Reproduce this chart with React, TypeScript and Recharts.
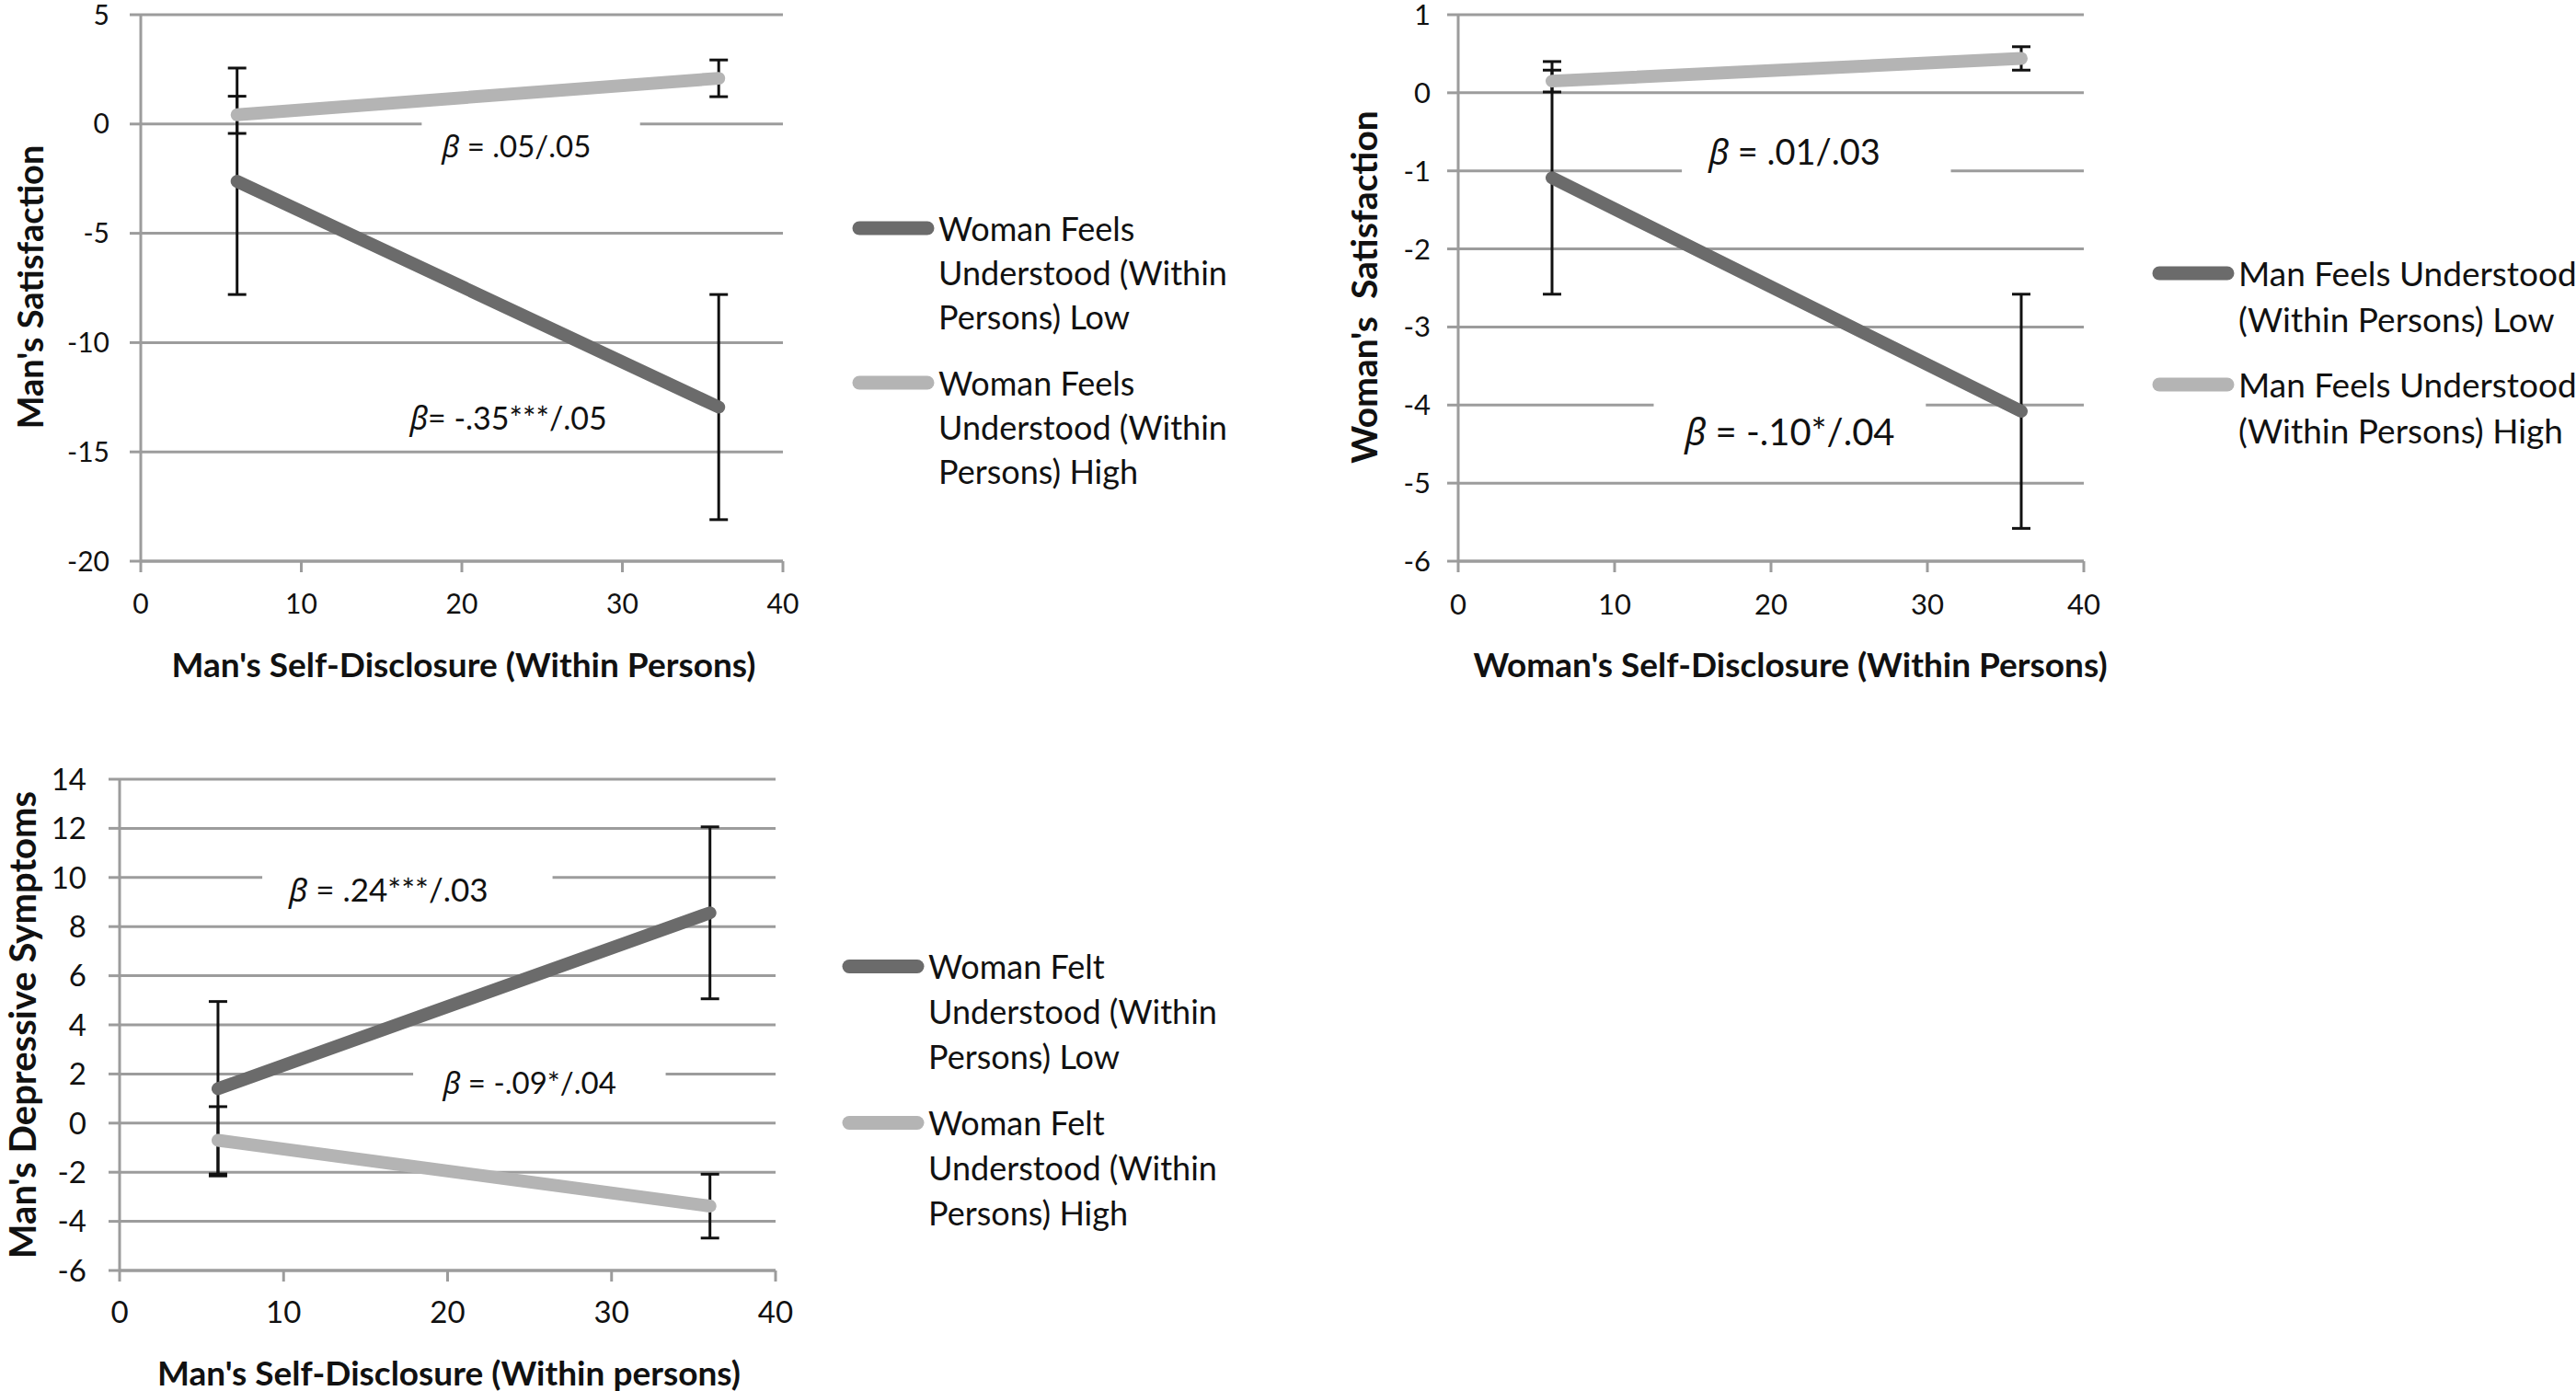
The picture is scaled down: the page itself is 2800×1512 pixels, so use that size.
import React from 'react';
import {
  LineChart,
  Line,
  XAxis,
  YAxis,
  CartesianGrid,
  ErrorBar,
  ReferenceArea,
  ReferenceDot,
} from 'recharts';

const FONT = 'Lato, "Noto Sans", sans-serif';
const DARK = '#6b6b6b';
const LIGHT = '#b4b4b4';
const GRID = '#9c9c9c';
const TEXT = '#111111';

// shared x positions (low / high self-disclosure)
const xPoints = [6, 36];
const xTicks = [0, 10, 20, 30, 40];

// Chart 1: Man's Satisfaction
const sat1Low = [-2.62, -12.95];
const sat1LowErr = [5.18, 5.15];
const sat1High = [0.42, 2.09];
const sat1HighErr = [0.85, 0.84];
const sat1YTicks = [-20, -15, -10, -5, 0, 5];
const sat1Legend = [
  ['Woman Feels', 'Understood (Within', 'Persons) Low'],
  ['Woman Feels', 'Understood (Within', 'Persons) High'],
];

// Chart 2: Woman's Satisfaction
const sat2Low = [-1.09, -4.08];
const sat2LowErr = [1.49, 1.5];
const sat2High = [0.15, 0.44];
const sat2HighErr = [0.14, 0.15];
const sat2YTicks = [-6, -5, -4, -3, -2, -1, 0, 1];
const sat2Legend = [
  ['Man Feels Understood', '(Within Persons) Low'],
  ['Man Feels Understood', '(Within Persons) High'],
];

// Chart 3: Man's Depressive Symptoms
const dep3Low = [1.4, 8.56];
const dep3LowErr = [3.55, 3.5];
const dep3High = [-0.7, -3.38];
const dep3HighErr = [1.37, 1.3];
const dep3YTicks = [-6, -4, -2, 0, 2, 4, 6, 8, 10, 12, 14];
const dep3Legend = [
  ['Woman Felt', 'Understood (Within', 'Persons) Low'],
  ['Woman Felt', 'Understood (Within', 'Persons) High'],
];

// beta annotations: text after β, position, and the white box behind it (x1, x2, y1, y2)
const sat1Betas = [
  { text: ' = .05/.05', x: 23.4, y: -1.05, box: [17.5, 31.1, -2.1, 0.45] },
  { text: '= -.35***/.05', x: 22.9, y: -13.5, box: null },
];
const sat2Betas = [
  { text: ' = .01/.03', x: 21.5, y: -0.77, box: [14.3, 31.5, -1.15, -0.42] },
  { text: ' = -.10*/.04', x: 21.2, y: -4.35, box: [12.5, 29.9, -4.75, -3.85] },
];
const dep3Betas = [
  { text: ' = .24***/.03', x: 16.4, y: 9.48, box: [8.7, 26.4, 8.6, 10.6] },
  { text: ' = -.09*/.04', x: 25.0, y: 1.64, box: [17.9, 33.3, 0.8, 2.6] },
];

const rows = (ys: number[], errs: number[]) =>
  xPoints.map((x, i) => ({ x, y: ys[i], err: errs[i] }));

type Beta = { text: string; x: number; y: number; box: number[] | null };

type PanelProps = {
  left: number;
  top: number;
  width: number;
  height: number;
  marginTop: number;
  marginRight: number;
  yWidth: number;
  domain: [number, number];
  yTicks: number[];
  tickFont: number;
  yTickMargin: number;
  xTickMargin: number;
  low: { x: number; y: number; err: number }[];
  high: { x: number; y: number; err: number }[];
  betas: Beta[];
  betaFonts: number[];
};

function Panel(p: PanelProps) {
  const tickStyle = { fontSize: p.tickFont, fill: TEXT, fontFamily: FONT };
  return (
    <div style={{ position: 'absolute', left: p.left, top: p.top }}>
      <LineChart
        width={p.width}
        height={p.height}
        margin={{ top: p.marginTop, right: p.marginRight, left: 0, bottom: 0 }}
        style={{ overflow: 'visible' }}
      >
        <CartesianGrid vertical={false} stroke={GRID} strokeWidth={3} />
        <XAxis
          dataKey="x"
          type="number"
          domain={[0, 40]}
          ticks={xTicks}
          interval={0}
          height={100}
          tick={tickStyle}
          tickSize={12}
          tickMargin={p.xTickMargin}
          axisLine={{ stroke: GRID, strokeWidth: 3 }}
          tickLine={{ stroke: GRID, strokeWidth: 3 }}
        />
        <YAxis
          type="number"
          domain={p.domain}
          ticks={p.yTicks}
          interval={0}
          width={p.yWidth}
          tick={tickStyle}
          tickSize={12}
          tickMargin={p.yTickMargin}
          axisLine={{ stroke: GRID, strokeWidth: 3 }}
          tickLine={{ stroke: GRID, strokeWidth: 3 }}
        />
        {p.betas.map((b, i) =>
          b.box ? (
            <ReferenceArea
              key={'box' + i}
              x1={b.box[0]}
              x2={b.box[1]}
              y1={b.box[2]}
              y2={b.box[3]}
              fill="#ffffff"
              fillOpacity={1}
              stroke="none"
            />
          ) : null
        )}
        {/* error bars drawn underneath the visible lines */}
        <Line
          data={p.low}
          dataKey="y"
          stroke="none"
          dot={false}
          activeDot={false}
          isAnimationActive={false}
        >
          <ErrorBar dataKey="err" direction="y" width={10} stroke="#111" strokeWidth={3} />
        </Line>
        <Line
          data={p.high}
          dataKey="y"
          stroke="none"
          dot={false}
          activeDot={false}
          isAnimationActive={false}
        >
          <ErrorBar dataKey="err" direction="y" width={10} stroke="#111" strokeWidth={3} />
        </Line>
        <Line
          data={p.low}
          dataKey="y"
          type="linear"
          stroke={DARK}
          strokeWidth={14}
          strokeLinecap="round"
          dot={false}
          activeDot={false}
          isAnimationActive={false}
        />
        <Line
          data={p.high}
          dataKey="y"
          type="linear"
          stroke={LIGHT}
          strokeWidth={14}
          strokeLinecap="round"
          dot={false}
          activeDot={false}
          isAnimationActive={false}
        />
        {p.betas.map((b, i) => (
          <ReferenceDot
            key={'beta' + i}
            x={b.x}
            y={b.y}
            r={0}
            shape={(sp: any) => (
              <text
                x={sp.cx}
                y={sp.cy}
                dy="0.35em"
                textAnchor="middle"
                fontFamily={FONT}
                fontSize={p.betaFonts[i]}
                fill={TEXT}
              >
                <tspan fontStyle="italic" fontFamily='"Noto Sans", sans-serif'>
                  β
                </tspan>
                <tspan>{b.text}</tspan>
              </text>
            )}
          />
        ))}
      </LineChart>
    </div>
  );
}

function Legend(props: {
  left: number;
  tops: number[];
  lineHeight: number;
  fontSize: number;
  labels: string[][];
}) {
  const colors = [DARK, LIGHT];
  return (
    <>
      {props.labels.map((lines, i) => (
        <div
          key={i}
          style={{
            position: 'absolute',
            left: props.left,
            top: props.tops[i],
            display: 'flex',
            alignItems: 'flex-start',
            fontFamily: FONT,
            fontSize: props.fontSize,
            lineHeight: props.lineHeight + 'px',
            color: TEXT,
            whiteSpace: 'nowrap',
          }}
        >
          <svg
            width={90}
            height={props.lineHeight}
            style={{ display: 'block', flex: 'none', marginRight: 4 }}
          >
            <line
              x1={8}
              y1={props.lineHeight / 2}
              x2={82}
              y2={props.lineHeight / 2}
              stroke={colors[i]}
              strokeWidth={15}
              strokeLinecap="round"
            />
          </svg>
          <div>
            {lines.map((l, j) => (
              <div key={j}>{l}</div>
            ))}
          </div>
        </div>
      ))}
    </>
  );
}

function Title(props: {
  text: string;
  x: number;
  y: number;
  size: number;
  rotate?: boolean;
}) {
  return (
    <div
      style={{
        position: 'absolute',
        left: props.x,
        top: props.y,
        transform: `translate(-50%, -50%)${props.rotate ? ' rotate(-90deg)' : ''}`,
        fontFamily: FONT,
        fontWeight: 700,
        fontSize: props.size,
        color: TEXT,
        whiteSpace: 'pre',
        lineHeight: 1,
      }}
    >
      {props.text}
    </div>
  );
}

export default function App() {
  return (
    <div
      style={{
        position: 'absolute',
        left: 0,
        top: 0,
        width: 2800,
        height: 1512,
        overflow: 'hidden',
        background: '#ffffff',
      }}
    >
      <Panel
        left={0}
        top={0}
        width={900}
        height={710}
        marginTop={16}
        marginRight={49}
        yWidth={153}
        domain={[-20, 5]}
        yTicks={sat1YTicks}
        tickFont={30}
        yTickMargin={22}
        xTickMargin={24}
        low={rows(sat1Low, sat1LowErr)}
        high={rows(sat1High, sat1HighErr)}
        betas={sat1Betas}
        betaFonts={[33, 34]}
      />
      <Panel
        left={1400}
        top={0}
        width={900}
        height={710}
        marginTop={16}
        marginRight={35}
        yWidth={185}
        domain={[-6, 1]}
        yTicks={sat2YTicks}
        tickFont={31}
        yTickMargin={18}
        xTickMargin={24}
        low={rows(sat2Low, sat2LowErr)}
        high={rows(sat2High, sat2HighErr)}
        betas={sat2Betas}
        betaFonts={[38, 40]}
      />
      <Panel
        left={0}
        top={800}
        width={900}
        height={681}
        marginTop={47}
        marginRight={57}
        yWidth={130}
        domain={[-6, 14]}
        yTicks={dep3YTicks}
        tickFont={33}
        yTickMargin={24}
        xTickMargin={22}
        low={rows(dep3Low, dep3LowErr)}
        high={rows(dep3High, dep3HighErr)}
        betas={dep3Betas}
        betaFonts={[35, 33]}
      />

      <Title text="Man's Satisfaction" x={32} y={312} size={38} rotate />
      <Title text="Man's Self-Disclosure (Within Persons)" x={504} y={721} size={37} />
      <Title text="Woman's  Satisfaction" x={1482} y={312} size={39} rotate />
      <Title text="Woman's Self-Disclosure (Within Persons)" x={1946} y={721} size={37} />
      <Title text="Man's Depressive Symptoms" x={24} y={1114} size={40} rotate />
      <Title text="Man's Self-Disclosure (Within persons)" x={488} y={1491} size={37} />

      <Legend left={926} tops={[224, 392]} lineHeight={48} fontSize={36} labels={sat1Legend} />
      <Legend left={2339} tops={[272, 393]} lineHeight={50} fontSize={37} labels={sat2Legend} />
      <Legend left={915} tops={[1026, 1196]} lineHeight={49} fontSize={36} labels={dep3Legend} />
    </div>
  );
}
